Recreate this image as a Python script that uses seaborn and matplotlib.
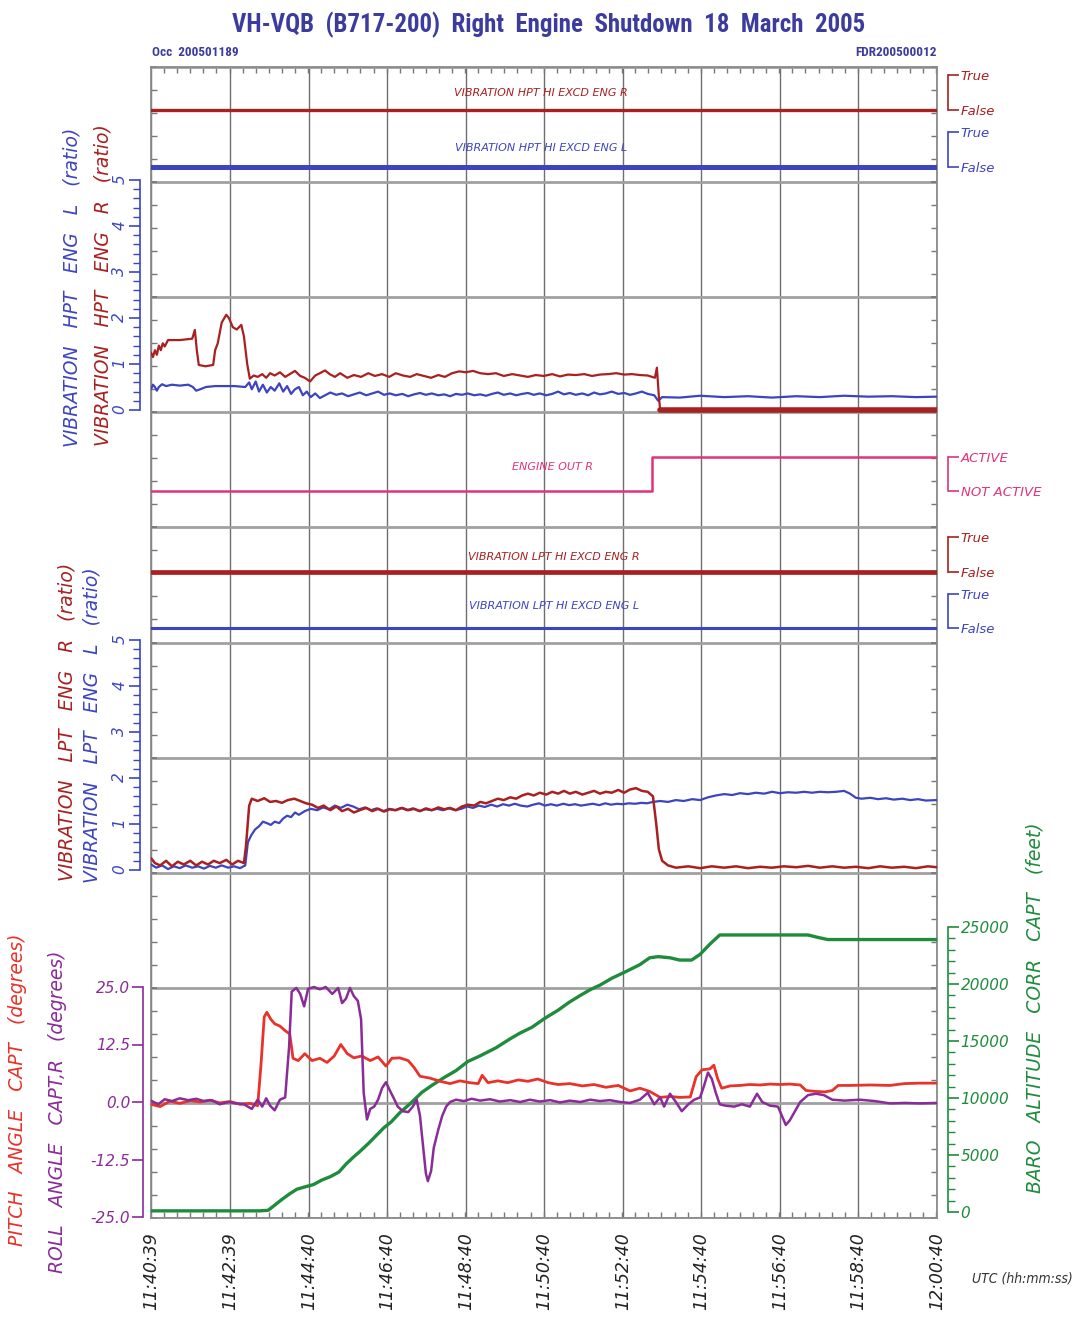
import seaborn as sns
import matplotlib.pyplot as plt
from matplotlib import font_manager
from matplotlib.ticker import FixedLocator

# time axis: seconds after 11:40:39 UTC
tick_secs = [0, 121, 241, 361, 481, 601, 721, 841, 961, 1081, 1201]
tick_labels = ['11:40:39', '11:42:39', '11:44:40', '11:46:40', '11:48:40', '11:50:40',
               '11:52:40', '11:54:40', '11:56:40', '11:58:40', '12:00:40']

# discrete parameters (0 = False / NOT ACTIVE, 1 = True / ACTIVE)
hpt_exc_r_t = [0, 1201]
hpt_exc_r = [0, 0]
hpt_exc_l_t = [0, 1201]
hpt_exc_l = [0, 0]
eng_out_t = [0, 765, 1201]
eng_out = [0, 1, 1]
lpt_exc_r_t = [0, 1201]
lpt_exc_r = [0, 0]
lpt_exc_l_t = [0, 1201]
lpt_exc_l = [0, 0]

# HPT vibration (ratio)
hpt_r_t = [0, 3, 6, 9, 12, 15, 18, 21, 26, 44, 63, 67, 70, 73, 83, 95, 98, 102, 108, 115,
           119, 125, 131, 138, 142, 147, 151, 157, 163, 170, 176, 182, 189, 197, 205, 212,
           220, 228, 235, 243, 251, 258, 266, 273, 281, 289, 300, 310, 321, 332, 342, 353,
           364, 374, 385, 396, 406, 417, 428, 439, 449, 460, 471, 481, 492, 503, 515, 527,
           539, 552, 564, 576, 588, 600, 613, 625, 637, 649, 662, 674, 686, 698, 711, 723,
           735, 747, 759, 770, 773, 776, 778, 1201]
hpt_r = [1.25, 1.15, 1.3, 1.2, 1.4, 1.3, 1.45, 1.38, 1.52, 1.52, 1.55, 1.74, 1.3, 0.98, 0.95,
         0.98, 1.3, 1.45, 1.9, 2.07, 2.0, 1.8, 1.75, 1.85, 1.6, 1.0, 0.68, 0.75, 0.72, 0.78,
         0.7, 0.8, 0.75, 0.82, 0.72, 0.78, 0.85, 0.74, 0.7, 0.62, 0.75, 0.8, 0.86, 0.78, 0.72,
         0.8, 0.7, 0.76, 0.72, 0.8, 0.74, 0.78, 0.72, 0.8, 0.75, 0.72, 0.78, 0.74, 0.7, 0.76,
         0.72, 0.8, 0.84, 0.82, 0.85, 0.8, 0.78, 0.8, 0.74, 0.78, 0.75, 0.72, 0.76, 0.74, 0.78,
         0.73, 0.77, 0.76, 0.78, 0.74, 0.77, 0.78, 0.8, 0.77, 0.78, 0.76, 0.75, 0.7, 0.92, 0.3,
         0.0, 0.0]
hpt_l_t = [0, 3, 6, 9, 12, 17, 23, 32, 44, 57, 64, 69, 75, 84, 98, 113, 128, 144, 150, 154,
           160, 165, 171, 177, 183, 189, 196, 202, 208, 214, 220, 226, 232, 238, 244, 251, 258,
           266, 274, 283, 292, 301, 310, 319, 329, 338, 347, 356, 365, 374, 384, 393, 402, 411,
           420, 429, 439, 448, 457, 466, 475, 484, 494, 503, 512, 521, 530, 539, 549, 558, 567,
           576, 585, 594, 604, 613, 622, 631, 640, 649, 659, 668, 677, 686, 695, 704, 714, 723,
           732, 741, 750, 759, 769, 775, 781, 808, 839, 876, 912, 949, 986, 1022, 1059, 1096,
           1132, 1169, 1201]
hpt_l = [0.45, 0.55, 0.5, 0.42, 0.5, 0.56, 0.52, 0.55, 0.53, 0.55, 0.5, 0.42, 0.45, 0.5, 0.52,
         0.52, 0.52, 0.5, 0.6, 0.45, 0.62, 0.4, 0.55, 0.38, 0.5, 0.42, 0.58, 0.4, 0.52, 0.35,
         0.45, 0.5, 0.32, 0.4, 0.28, 0.36, 0.26, 0.32, 0.38, 0.33, 0.36, 0.3, 0.34, 0.38, 0.32,
         0.36, 0.4, 0.33, 0.36, 0.32, 0.35, 0.3, 0.34, 0.37, 0.33, 0.36, 0.32, 0.34, 0.3, 0.35,
         0.33, 0.36, 0.32, 0.34, 0.31, 0.35, 0.38, 0.33, 0.36, 0.32, 0.35, 0.37, 0.33, 0.36,
         0.32, 0.35, 0.4, 0.34, 0.37, 0.33, 0.36, 0.32, 0.38, 0.34, 0.36, 0.4, 0.35, 0.37, 0.33,
         0.36, 0.4, 0.35, 0.32, 0.2, 0.28, 0.27, 0.31, 0.28, 0.3, 0.27, 0.3, 0.28, 0.31, 0.29,
         0.3, 0.28, 0.29]

# LPT vibration (ratio)
lpt_r_t = [0, 6, 14, 23, 32, 41, 50, 60, 69, 78, 87, 96, 105, 115, 124, 133, 142, 145, 150,
           154, 163, 173, 182, 191, 200, 209, 219, 228, 237, 246, 255, 264, 274, 283, 292, 301,
           310, 319, 329, 338, 347, 356, 365, 374, 384, 393, 402, 411, 420, 429, 439, 448, 457,
           466, 475, 484, 494, 503, 512, 521, 530, 539, 549, 558, 567, 576, 585, 594, 604, 613,
           622, 631, 640, 649, 659, 668, 677, 686, 695, 704, 714, 723, 732, 741, 750, 759, 767,
           772, 776, 781, 790, 802, 821, 839, 857, 876, 894, 912, 931, 949, 967, 986, 1004,
           1022, 1041, 1059, 1077, 1096, 1114, 1132, 1151, 1169, 1187, 1201]
lpt_r = [0.26, 0.15, 0.1, 0.2, 0.08, 0.18, 0.12, 0.2, 0.1, 0.18, 0.12, 0.2, 0.15, 0.22, 0.12,
         0.2, 0.15, 0.5, 1.4, 1.55, 1.5, 1.56, 1.48, 1.5, 1.46, 1.52, 1.55, 1.5, 1.45, 1.42,
         1.35, 1.4, 1.3, 1.38, 1.28, 1.33, 1.25, 1.3, 1.35, 1.28, 1.33, 1.27, 1.32, 1.3, 1.35,
         1.3, 1.33, 1.28, 1.34, 1.3, 1.36, 1.32, 1.35, 1.3, 1.38, 1.42, 1.4, 1.48, 1.45, 1.5,
         1.55, 1.52, 1.58, 1.55, 1.62, 1.66, 1.62, 1.68, 1.64, 1.7, 1.66, 1.72, 1.66, 1.7, 1.64,
         1.68, 1.72, 1.66, 1.7, 1.68, 1.74, 1.68, 1.75, 1.78, 1.72, 1.7, 1.6, 1.0, 0.45, 0.2,
         0.1, 0.05, 0.08, 0.04, 0.08, 0.05, 0.08, 0.04, 0.07, 0.05, 0.08, 0.06, 0.09, 0.05,
         0.08, 0.05, 0.07, 0.04, 0.08, 0.05, 0.07, 0.04, 0.08, 0.06]
lpt_l_t = [0, 8, 17, 26, 35, 44, 53, 63, 72, 81, 90, 99, 108, 118, 127, 136, 144, 148, 153,
           159, 165, 171, 177, 183, 189, 196, 202, 208, 214, 220, 226, 235, 244, 254, 263, 272,
           281, 290, 300, 309, 318, 327, 336, 345, 355, 364, 373, 382, 391, 400, 410, 419, 428,
           437, 446, 455, 465, 474, 483, 492, 501, 510, 520, 529, 538, 547, 556, 565, 575, 584,
           593, 602, 611, 620, 630, 639, 648, 657, 666, 675, 685, 694, 703, 712, 721, 730, 740,
           749, 758, 767, 778, 790, 802, 814, 827, 839, 851, 863, 876, 888, 900, 912, 924, 937,
           949, 961, 973, 986, 998, 1010, 1022, 1034, 1047, 1059, 1068, 1077, 1086, 1099, 1111,
           1123, 1135, 1148, 1160, 1172, 1184, 1201]
lpt_l = [0.12, 0.05, 0.1, 0.02, 0.08, 0.04, 0.1, 0.05, 0.08, 0.03, 0.09, 0.05, 0.1, 0.05, 0.08,
         0.04, 0.1, 0.6, 0.75, 0.88, 0.95, 1.05, 1.02, 0.98, 1.05, 1.02, 1.12, 1.18, 1.15, 1.25,
         1.2, 1.28, 1.33, 1.3, 1.36, 1.32, 1.4, 1.35, 1.42, 1.38, 1.32, 1.36, 1.3, 1.34, 1.28,
         1.33, 1.3, 1.35, 1.3, 1.34, 1.28, 1.32, 1.3, 1.33, 1.3, 1.34, 1.3, 1.33, 1.38, 1.35,
         1.4, 1.37, 1.42, 1.38, 1.43, 1.4, 1.44, 1.4, 1.38, 1.42, 1.45, 1.4, 1.43, 1.4, 1.44,
         1.41, 1.43, 1.4, 1.42, 1.44, 1.41, 1.45, 1.42, 1.44, 1.43, 1.45, 1.44, 1.46, 1.45,
         1.48, 1.5, 1.48, 1.52, 1.5, 1.54, 1.52, 1.58, 1.62, 1.65, 1.63, 1.67, 1.65, 1.68, 1.66,
         1.7, 1.67, 1.69, 1.68, 1.7, 1.68, 1.7, 1.69, 1.7, 1.72, 1.66, 1.57, 1.55, 1.57, 1.54,
         1.56, 1.53, 1.55, 1.52, 1.54, 1.51, 1.52]

# pitch and roll (degrees)
pitch_t = [0, 14, 29, 44, 60, 75, 90, 105, 121, 136, 151, 163, 168, 173, 177, 183, 189, 197,
           205, 212, 217, 225, 235, 246, 258, 269, 280, 290, 300, 310, 322, 335, 347, 359, 368,
           380, 393, 402, 411, 426, 442, 457, 472, 487, 500, 506, 515, 530, 545, 561, 576, 591,
           607, 622, 640, 659, 677, 695, 714, 732, 747, 762, 778, 793, 808, 824, 833, 842, 854,
           860, 866, 872, 885, 900, 915, 931, 946, 961, 976, 992, 1001, 1015, 1030, 1041, 1050,
           1068, 1099, 1129, 1151, 1175, 1201]
pitch = [-0.5, -1.0, 0.2, -0.3, 0.3, 0.0, 0.4, -0.2, 0.1, -0.5, -0.3, -0.8, 8.0, 18.5, 19.5,
         18.0, 17.0, 16.5, 15.5, 14.8, 9.5, 9.0, 10.5, 9.0, 9.5, 8.6, 10.0, 12.5, 10.5, 9.6,
         10.0, 9.0, 9.8, 7.8, 9.5, 9.6, 9.0, 7.5, 5.6, 5.2, 4.5, 4.0, 4.6, 4.2, 4.0, 5.8, 4.2,
         4.6, 4.2, 4.8, 4.5, 5.0, 4.2, 3.8, 4.0, 3.5, 3.8, 3.2, 3.6, 2.4, 3.0, 2.3, 1.0, 1.2,
         1.0, 1.1, 5.5, 7.0, 7.2, 8.0, 5.0, 3.0, 3.5, 3.6, 3.8, 3.7, 3.9, 3.8, 3.9, 3.7, 2.5,
         2.3, 2.2, 2.5, 3.6, 3.6, 3.7, 3.6, 4.0, 4.1, 4.1]
roll_t = [0, 11, 21, 32, 44, 57, 69, 81, 93, 105, 118, 130, 142, 154, 163, 170, 176, 182, 189,
          197, 205, 211, 215, 222, 228, 234, 240, 249, 258, 267, 277, 286, 292, 298, 304, 310,
          316, 321, 325, 330, 335, 341, 347, 353, 359, 365, 371, 377, 385, 393, 400, 406, 411,
          416, 420, 423, 428, 432, 439, 445, 451, 457, 466, 478, 490, 503, 518, 533, 549, 564,
          579, 594, 610, 625, 640, 656, 671, 686, 701, 717, 732, 747, 759, 769, 778, 784, 793,
          802, 811, 821, 830, 839, 845, 851, 857, 863, 869, 878, 891, 903, 915, 926, 934, 946,
          958, 964, 970, 976, 984, 992, 1004, 1016, 1028, 1041, 1060, 1083, 1106, 1129, 1152,
          1175, 1201]
roll = [0.3, -0.5, 0.6, 0.2, 0.8, 0.4, 0.7, 0.2, 0.4, -0.5, 0.0, -0.3, -0.5, -1.5, 0.5, -1.0,
        0.8, -0.8, -1.8, 0.5, 1.0, 12.0, 24.0, 24.8, 23.5, 20.8, 24.6, 25.0, 24.5, 25.0, 23.5,
        24.8, 21.5, 22.5, 24.8, 23.0, 22.0, 18.0, 2.0, -3.8, -1.5, -1.0, 0.5, 3.0, 4.3, 2.5,
        0.8, -1.0, -2.0, -2.2, -1.0, 0.5, -3.0, -10.0, -15.5, -17.2, -15.0, -10.0, -6.0, -3.0,
        -1.0, 0.0, 0.5, 0.2, 0.7, 0.3, 0.6, 0.1, 0.4, 0.0, 0.5, 0.1, 0.4, -0.1, 0.3, 0.0, 0.5,
        0.2, 0.4, 0.0, -0.2, 0.5, 2.0, -0.5, 1.0, -1.0, 1.8, 0.0, -2.0, -0.5, 0.5, 1.0, 3.5,
        6.4, 5.0, 2.0, -0.5, -0.8, -1.0, -0.5, -1.0, 1.8, 0.0, -0.8, -1.0, -3.0, -5.0, -4.0,
        -2.0, 0.0, 1.5, 1.8, 1.5, 0.5, 0.3, 0.5, 0.2, -0.3, -0.2, -0.3, -0.2]

# baro altitude (feet)
alt_t = [0, 75, 166, 179, 189, 200, 212, 223, 235, 248, 261, 274, 287, 298, 309, 319, 332, 344,
         356, 367, 380, 396, 414, 429, 448, 466, 484, 503, 527, 549, 564, 582, 602, 622, 639,
         656, 671, 686, 704, 726, 747, 762, 775, 793, 808, 826, 839, 854, 869, 900, 931, 976,
         1004, 1018, 1034, 1083, 1144, 1201]
alt = [100, 100, 100, 150, 600, 1100, 1600, 2000, 2200, 2400, 2800, 3100, 3500, 4200, 4800,
       5300, 6000, 6700, 7400, 7900, 8700, 9500, 10500, 11100, 11800, 12400, 13200, 13700,
       14400, 15200, 15700, 16200, 17000, 17700, 18400, 19000, 19500, 19900, 20500, 21100,
       21700, 22300, 22400, 22300, 22100, 22100, 22600, 23500, 24300, 24300, 24300, 24300,
       24300, 24100, 23900, 23900, 23900, 23900]

RED = '#a8201f'
BLUE = '#3c44c0'
PINK = '#e0337c'
PITCH = '#e8322a'
ROLL = '#8a2b99'
GREEN = '#1f8c3c'
TITLE = '#3b3c9e'

sns.set_theme(style='white')
plt.rcParams['font.family'] = ['DejaVu Sans']


def narrow_family():
    for fam in ['Liberation Sans Narrow', 'Roboto Condensed', 'Open Sans Condensed',
                'DejaVu Sans Condensed', 'Noto Sans Condensed']:
        try:
            font_manager.findfont(fam, fallback_to_default=False)
            return fam
        except ValueError:
            pass
    return 'DejaVu Sans'


NARROW = narrow_family()

W, H = 1088, 1328
X0, X1, Y0, Y1 = 151, 937, 67, 1218

fig = plt.figure(figsize=(W / 100, H / 100), dpi=100)
fig.patch.set_facecolor('white')
ax = fig.add_axes([X0 / W, 1 - Y1 / H, (X1 - X0) / W, (Y1 - Y0) / H])


def fx(px):
    return px / W


def fy(py):
    return 1 - py / H


def fit_width(t, target):
    r = fig.canvas.get_renderer()
    w = t.get_window_extent(renderer=r).width
    t.set_fontsize(t.get_fontsize() * target / w)


def overlay(v_lo, p_lo, v_hi, p_hi):
    a = fig.add_axes(ax.get_position(), sharex=ax, facecolor='none')
    f_lo = (Y1 - p_lo) / (Y1 - Y0)
    f_hi = (Y1 - p_hi) / (Y1 - Y0)
    span = (v_hi - v_lo) / (f_hi - f_lo)
    bottom = v_lo - f_lo * span
    a.set_ylim(bottom, bottom + span)
    for s in a.spines.values():
        s.set_visible(False)
    a.xaxis.set_visible(False)
    a.grid(False)
    a.tick_params(axis='y', which='both', left=False, right=False,
                  labelleft=False, labelright=False)
    return a


def left_scale(a, lo, hi, color, major, labels, minor=None, rot=0, out=8, size=11):
    sp = a.spines['left']
    sp.set_visible(True)
    sp.set_position(('outward', out))
    sp.set_bounds(lo, hi)
    sp.set_color(color)
    sp.set_linewidth(1.2)
    a.yaxis.set_ticks_position('left')
    a.set_yticks(major, labels, fontstyle='italic', rotation=rot, fontsize=size)
    if minor is not None:
        a.yaxis.set_minor_locator(FixedLocator(minor))
    a.tick_params(axis='y', which='both', left=True, labelleft=True, right=False,
                  labelright=False, direction='out', colors=color, pad=1)
    a.tick_params(axis='y', which='major', length=8, width=1.2)
    a.tick_params(axis='y', which='minor', length=5, width=1)


def right_scale(a, lo, hi, color, major, labels, minor=None, size=9.5):
    sp = a.spines['right']
    sp.set_visible(True)
    sp.set_position(('outward', 8))
    sp.set_bounds(lo, hi)
    sp.set_color(color)
    sp.set_linewidth(1.2)
    a.yaxis.set_ticks_position('right')
    a.set_yticks(major, labels, fontstyle='italic', fontsize=size)
    if minor is not None:
        a.yaxis.set_minor_locator(FixedLocator(minor))
    a.tick_params(axis='y', which='both', right=True, labelright=True, left=False,
                  labelleft=False, direction='out', colors=color, pad=1)
    a.tick_params(axis='y', which='major', length=8, width=1.2)
    a.tick_params(axis='y', which='minor', length=5, width=1)


# --- frame and grid
ax.set_xlim(0, 1201)
ax.set_ylim(0, 10)
ax.set_xticks(tick_secs, tick_labels, rotation=90, fontstyle='italic', fontsize=12.5,
              color='#222222')
ax.xaxis.set_minor_locator(FixedLocator(list(range(0, 1201, 20))))
ax.set_yticks(list(range(11)), [])
ax.yaxis.set_minor_locator(FixedLocator([i / 5 for i in range(51)]))
ax.grid(True, axis='y', which='major', color='#a0a0a0', lw=2)
ax.grid(True, axis='x', which='major', color='#6e6e6e', lw=1)
ax.tick_params(axis='x', which='major', length=0, pad=10)
ax.tick_params(axis='x', which='minor', direction='in', length=4, top=True, bottom=True,
               color='#777777')
ax.tick_params(axis='y', which='both', direction='in', length=4, left=True, right=True,
               color='#777777')
for s in ax.spines.values():
    s.set_color('#8a8a8a')
    s.set_linewidth(1.3)

# --- discrete parameters
a = overlay(0, 110, 1, 75)
sns.lineplot(x=hpt_exc_r_t, y=hpt_exc_r, ax=a, color=RED, linewidth=2.4)
right_scale(a, 0, 1, RED, [0, 1], ['False', 'True'])

a = overlay(0, 167, 1, 132)
sns.lineplot(x=hpt_exc_l_t, y=hpt_exc_l, ax=a, color=BLUE, linewidth=3.6)
right_scale(a, 0, 1, BLUE, [0, 1], ['False', 'True'])

a = overlay(0, 491, 1, 457)
sns.lineplot(x=eng_out_t, y=eng_out, ax=a, color=PINK, linewidth=1.8, drawstyle='steps-post')
right_scale(a, 0, 1, PINK, [0, 1], ['NOT ACTIVE', 'ACTIVE'])

a = overlay(0, 572, 1, 537)
sns.lineplot(x=lpt_exc_r_t, y=lpt_exc_r, ax=a, color=RED, linewidth=3.4)
right_scale(a, 0, 1, RED, [0, 1], ['False', 'True'])

a = overlay(0, 628, 1, 594)
sns.lineplot(x=lpt_exc_l_t, y=lpt_exc_l, ax=a, color=BLUE, linewidth=2.2)
right_scale(a, 0, 1, BLUE, [0, 1], ['False', 'True'])

# --- HPT vibration
a = overlay(0, 410, 5, 180)
sns.lineplot(x=hpt_l_t, y=hpt_l, ax=a, color=BLUE, linewidth=1.6)
sns.lineplot(x=hpt_r_t, y=hpt_r, ax=a, color=RED, linewidth=1.6)
sns.lineplot(x=hpt_r_t[-2:], y=hpt_r[-2:], ax=a, color=RED, linewidth=4)
left_scale(a, 0, 5, BLUE, [0, 1, 2, 3, 4, 5], ['0', '1', '2', '3', '4', '5'],
           minor=[i / 5 for i in range(26)], rot=90, size=11)

# --- LPT vibration
a = overlay(0, 870, 5, 640)
sns.lineplot(x=lpt_l_t, y=lpt_l, ax=a, color=BLUE, linewidth=1.6)
sns.lineplot(x=lpt_r_t, y=lpt_r, ax=a, color=RED, linewidth=1.8)
left_scale(a, 0, 5, BLUE, [0, 1, 2, 3, 4, 5], ['0', '1', '2', '3', '4', '5'],
           minor=[i / 5 for i in range(26)], rot=90, size=11)

# --- altitude
a = overlay(0, 1212, 25000, 927)
sns.lineplot(x=alt_t, y=alt, ax=a, color=GREEN, linewidth=2.4)
right_scale(a, 0, 25000, GREEN, [0, 5000, 10000, 15000, 20000, 25000],
            ['0', '5000', '10000', '15000', '20000', '25000'],
            minor=list(range(0, 25001, 1000)), size=11)

# --- pitch / roll
a = overlay(0, 1102, 25, 987)
sns.lineplot(x=pitch_t, y=pitch, ax=a, color=PITCH, linewidth=2)
sns.lineplot(x=roll_t, y=roll, ax=a, color=ROLL, linewidth=1.8)
left_scale(a, -25, 25, ROLL, [-25, -12.5, 0, 12.5, 25], ['-25.0', '-12.5', '0.0', '12.5', '25.0'],
           out=6, size=11)

ax.set_xlim(0, 1201)

# --- texts
title = fig.text(fx(549), fy(25), 'VH-VQB  (B717-200)  Right  Engine  Shutdown  18  March  2005',
                 ha='center', va='center', fontsize=21, color=TITLE, family=NARROW,
                 fontweight='bold', fontstretch='condensed')
fit_width(title, 634)
fig.text(fx(152), fy(52), 'Occ  200501189', ha='left', va='center', fontsize=9.5,
         color=TITLE, family=NARROW, fontweight='bold', fontstretch='condensed')
fig.text(fx(937), fy(52), 'FDR200500012', ha='right', va='center', fontsize=9.5,
         color=TITLE, family=NARROW, fontweight='bold', fontstretch='condensed')

inner = [('VIBRATION HPT HI EXCD ENG R', 541, 93, RED),
         ('VIBRATION HPT HI EXCD ENG L', 541, 148, BLUE),
         ('ENGINE OUT R', 552, 467, PINK),
         ('VIBRATION LPT HI EXCD ENG R', 554, 557, RED),
         ('VIBRATION LPT HI EXCD ENG L', 554, 606, BLUE)]
for txt, px, py, col in inner:
    fig.text(fx(px), fy(py), txt, ha='center', va='center', fontsize=8, color=col,
             fontstyle='italic')

side = [('VIBRATION   HPT   ENG   L   (ratio)', 72, 287, BLUE),
        ('VIBRATION   HPT   ENG   R   (ratio)', 103, 285, RED),
        ('VIBRATION   LPT   ENG   R   (ratio)', 67, 722, RED),
        ('VIBRATION   LPT   ENG   L   (ratio)', 92, 725, BLUE),
        ('PITCH   ANGLE   CAPT   (degrees)', 18, 1090, PITCH),
        ('ROLL   ANGLE   CAPT,R   (degrees)', 58, 1112, ROLL),
        ('BARO   ALTITUDE   CORR   CAPT   (feet)', 1035, 1008, GREEN)]
for txt, px, py, col in side:
    fig.text(fx(px), fy(py), txt, ha='center', va='center', rotation=90, fontsize=13.5,
             color=col, fontstyle='italic')

fig.text(fx(1022), fy(1278), 'UTC (hh:mm:ss)', ha='center', va='center', fontsize=10,
         color='#333333', fontstyle='italic', fontstretch='condensed')

fig.savefig('out.png', dpi=100, facecolor='white')
